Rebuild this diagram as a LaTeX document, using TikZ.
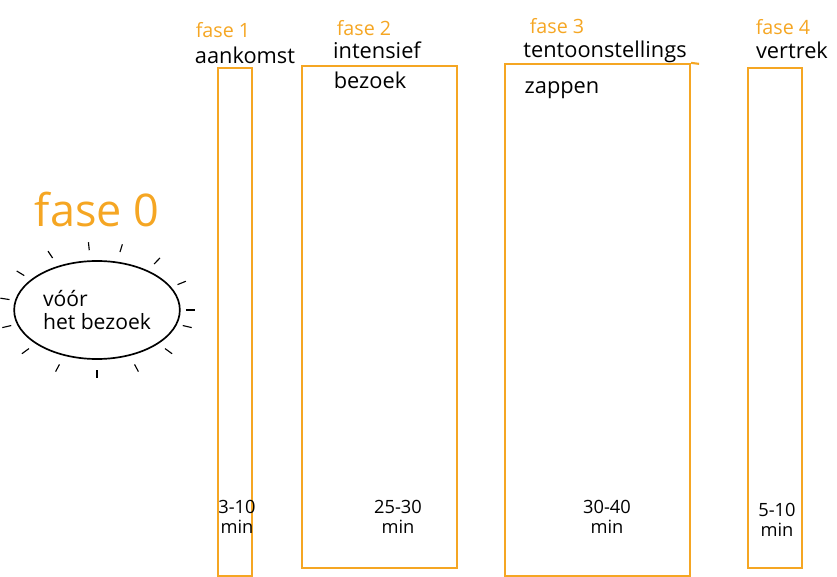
\documentclass[tikz,border=0pt]{standalone}
\usepackage{fontspec}
\setmainfont{Open Sans}
\usetikzlibrary{positioning,shapes.geometric,calc}
\definecolor{faseorange}{RGB}{245,166,35}
\tikzset{
  bar/.style={draw=faseorange,line width=1.5pt},
  faselabel/.style={text=faseorange,font=\fontsize{14}{15}\selectfont},
  phasename/.style={font=\fontsize{15.5}{16}\selectfont,align=left},
  duration/.style={font=\fontsize{13}{14.5}\selectfont,align=center}
}

\begin{document}
\begin{tikzpicture}[x=0.025cm,y=-0.025cm]
  \useasboundingbox (0,0) rectangle (837,577);
  % fase 0
  \node[text=faseorange,font=\fontsize{32}{34}\selectfont] (f0) at (97,210) {fase 0};
  \node[draw,ellipse,line width=1.2pt,minimum width=3.85cm,minimum height=2.45cm,
        font=\fontsize{15}{16}\selectfont,align=left] (pre) at (97,310) {vóór\\het bezoek};
  \foreach \a in {0,25,50,75,95,120,145,170,195,220,245,270,295,320,345}
    \draw[line width=0.8pt] ($(pre.center)+(\a:2.22cm and 1.5cm)$) -- ($(pre.center)+(\a:2.45cm and 1.7cm)$);
  % bars
  \node[bar,minimum width=0.85cm,minimum height=12.7cm] (bar1) at (235,322) {};
  \node[bar,minimum width=3.875cm,minimum height=12.55cm] (bar2) at (379.5,317) {};
  \node[bar,minimum width=4.625cm,minimum height=12.8cm] (bar3) at (597.5,320) {};
  \node[bar,minimum width=1.35cm,minimum height=12.5cm] (bar4) at (775,318) {};
  \draw[bar] (bar3.north east) -- ++(8,1);
  % labels above
  \node[faselabel] (f1) at (223,30) {fase 1};
  \node[phasename] (n1) at (245,55) {aankomst};
  \node[faselabel] (f2) at (364,28) {fase 2};
  \node[phasename] (n2) at (377,50) {intensief};
  \node[phasename] (n2b) at (370,80) {bezoek};
  \node[faselabel] (f3) at (557,26) {fase 3};
  \node[phasename] (n3) at (605,52) {tentoonstellings};
  \node[phasename] (n3b) at (562,90) {zappen};
  \node[faselabel] (f4) at (783,27) {fase 4};
  \node[phasename] (n4) at (792,50) {vertrek};
  % durations
  \node[duration] (d1) at (237,517) {3-10\\min};
  \node[duration] (d2) at (398,517) {25-30\\min};
  \node[duration] (d3) at (607,517) {30-40\\min};
  \node[duration] (d4) at (777,520) {5-10\\min};
\end{tikzpicture}
\end{document}
